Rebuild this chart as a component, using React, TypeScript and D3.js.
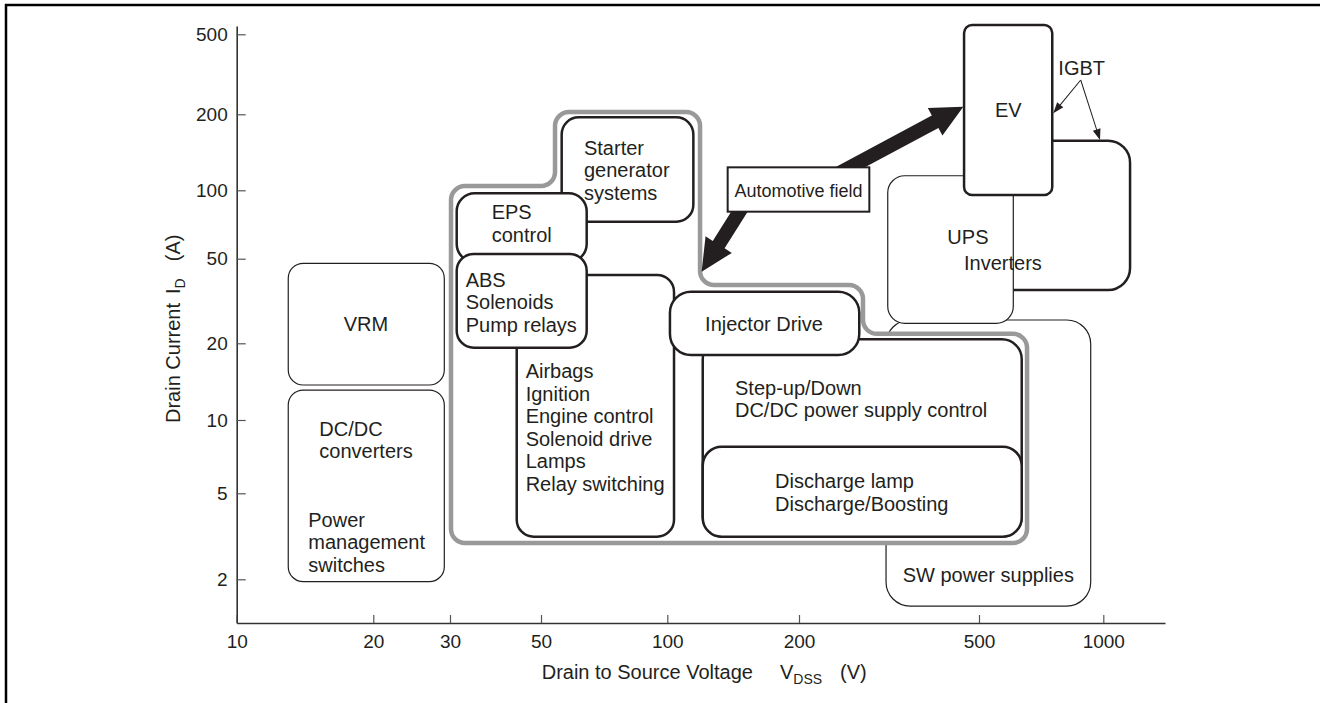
import * as React from "react";
import * as d3 from "d3";

const W = 1320;
const H = 703;
const ink = "#231f20";
const font = "'Liberation Sans', Arial, Helvetica, sans-serif";

// axes (log): drain-source voltage in V, drain current in A
const xTicks = [10, 20, 30, 50, 100, 200, 500, 1000];
const yTicks = [2, 5, 10, 20, 50, 100, 200, 500];
const xEnd = 1411; // right end of the voltage axis
const yEnds = [1.255, 550]; // bottom and top of the current axis

// application areas, back to front: voltage range [V], current range [A]
const regions = [
  { id: "sw", v: [311.5, 932.2], a: [1.504, 25.74] },
  { id: "starter", v: [56.01, 114.7], a: [72.74, 194.6] },
  { id: "eps", v: [31.15, 64.25], a: [48.25, 97.01] },
  { id: "airbags", v: [43.63, 103.6], a: [3.149, 41.91] },
  { id: "abs", v: [31.15, 64.25], a: [19.22, 52.44] },
  { id: "stepup", v: [120.5, 634.5], a: [3.149, 20.89] },
  { id: "discharge", v: [120.5, 634.5], a: [3.149, 7.77] },
  { id: "injector", v: [101.4, 271.8], a: [17.99, 34.97] },
  { id: "vrm", v: [12.99, 29.11], a: [13.72, 47.57] },
  { id: "dcdc", v: [12.99, 29.11], a: [1.95, 13.11] },
  { id: "inverters", v: [502.8, 1161], a: [35.62, 157.2] },
  { id: "ups", v: [314.2, 605.4], a: [24.84, 114.2] },
  { id: "ev", v: [463.4, 752.3], a: [95.35, 556.4] },
];

// outline of the automotive field
const autoV = [30.17, 30.17, 54.0, 54.0, 118.8, 118.8, 277.0, 277.0, 653.6, 653.6];
const autoA = [2.944, 104.0, 104.0, 205.3, 205.3, 37.61, 37.61, 22.15, 22.15, 2.944];

// "Automotive field" tag
const tagV = [137.4, 286.1];
const tagA = [80.52, 123.3];

// arrows: from [V, A] to [V, A]
const bigArrows = [
  { from: [229.5, 109.8], to: [461.7, 218.2] },
  { from: [154.5, 95.35], to: [119.8, 43.43] },
];
const igbtArrows = [
  { from: [881.6, 296.2], to: [756.5, 202.3] },
  { from: [881.6, 296.2], to: [981.8, 158.2] },
];

const labels = [
  { id: "vrm", v: 19.27, a: 22.93, lines: ["VRM"] },
  { id: "dcdc", v: 15.21, a: 8.597, lines: ["DC/DC", "converters"] },
  { id: "power", v: 14.38, a: 3.503, lines: ["Power", "management", "switches"] },
  { id: "abs", v: 32.76, a: 36.93, lines: ["ABS", "Solenoids", "Pump relays"] },
  { id: "eps", v: 37.91, a: 74.55, lines: ["EPS", "control"] },
  { id: "starter", v: 63.3, a: 138.0, lines: ["Starter", "generator", "systems"] },
  {
    id: "airbags", v: 45.87, a: 14.58,
    lines: ["Airbags", "Ignition", "Engine control", "Solenoid drive", "Lamps", "Relay switching"],
  },
  { id: "injector", v: 122.0, a: 22.93, lines: ["Injector Drive"] },
  { id: "stepup", v: 142.8, a: 12.54, lines: ["Step-up/Down", "DC/DC power supply control"] },
  { id: "discharge", v: 176.3, a: 5.242, lines: ["Discharge lamp", "Discharge/Boosting"] },
  { id: "sw", v: 339.1, a: 1.95, lines: ["SW power supplies"] },
  { id: "ups", v: 425.6, a: 57.86, lines: ["UPS"] },
  { id: "inverters", v: 463.4, a: 44.24, lines: ["Inverters"] },
  { id: "ev", v: 588.8, a: 195.7, lines: ["EV"] },
  { id: "igbt", v: 778.2, a: 313.7, lines: ["IGBT"] },
  { id: "auto", v: 199.5, a: 93.72, lines: ["Automotive field"] },
];

const thinBoxes = new Set(["sw", "vrm", "dcdc", "ups"]);
const boxRadius: Record<string, number> = {
  sw: 24, starter: 17, eps: 18, airbags: 17, abs: 17, stepup: 20, discharge: 19,
  injector: 21, vrm: 15, dcdc: 15, inverters: 22, ups: 17, ev: 8,
};
const centered = new Set(["vrm", "ev", "auto"]);

// the printed axes are not perfectly logarithmic, so the scales pass through every printed tick
const x = d3
  .scaleLog()
  .domain([...xTicks, xEnd])
  .range([236.7, 373.3, 450, 541, 667.3, 799, 979, 1103.3, 1165]);
const y = d3
  .scaleLog()
  .domain([yEnds[0], ...yTicks, yEnds[1]])
  .range([623, 579.3, 493.3, 420, 343.3, 258.7, 190.3, 114.3, 34.3, 26]);

function roundedPoly(pts: number[][], r: number) {
  const p = d3.path();
  const n = pts.length;
  const a = pts[n - 1];
  const b = pts[0];
  p.moveTo((a[0] + b[0]) / 2, (a[1] + b[1]) / 2);
  for (let i = 0; i < n; i++) {
    const c = pts[i];
    const d = pts[(i + 1) % n];
    p.arcTo(c[0], c[1], d[0], d[1], r);
  }
  p.closePath();
  return p.toString();
}

function arrowPoints(x1: number, y1: number, x2: number, y2: number, shaft: number, headL: number, headW: number) {
  const len = Math.hypot(x2 - x1, y2 - y1);
  const ux = (x2 - x1) / len;
  const uy = (y2 - y1) / len;
  const nx = -uy;
  const ny = ux;
  const bx = x2 - ux * headL;
  const by = y2 - uy * headL;
  const pts = [
    [x1 + (nx * shaft) / 2, y1 + (ny * shaft) / 2],
    [bx + (nx * shaft) / 2, by + (ny * shaft) / 2],
    [bx + (nx * headW) / 2, by + (ny * headW) / 2],
    [x2, y2],
    [bx - (nx * headW) / 2, by - (ny * headW) / 2],
    [bx - (nx * shaft) / 2, by - (ny * shaft) / 2],
    [x1 - (nx * shaft) / 2, y1 - (ny * shaft) / 2],
  ];
  return pts.map((p) => p.join(",")).join(" ");
}

function drawAxes(xRef: any, yRef: any) {
  const gx = d3.select(xRef.current);
  gx.selectAll("*").remove();
  gx.call(
    d3.axisBottom(x).tickValues(xTicks).tickFormat(d3.format("d")).tickSizeInner(-8).tickSizeOuter(0).tickPadding(11.5)
  );

  const gy = d3.select(yRef.current);
  gy.selectAll("*").remove();
  gy.call(
    d3.axisLeft(y).tickValues(yTicks).tickFormat(d3.format("d")).tickSizeInner(-9).tickSizeOuter(0).tickPadding(9)
  );

  [gx, gy].forEach((g) => {
    g.attr("font-family", font).attr("font-size", 19);
    g.select(".domain").attr("stroke", "#333").attr("stroke-width", 1.6);
    g.selectAll(".tick line").attr("stroke", "#555").attr("stroke-width", 1.2);
    g.selectAll(".tick text").attr("fill", ink);
  });
}

export default function App() {
  const xRef = React.useRef(null);
  const yRef = React.useRef(null);

  React.useEffect(() => {
    drawAxes(xRef, yRef);
  }, []);

  const box = (r: { id: string; v: number[]; a: number[] }) => {
    const x0 = x(r.v[0]);
    const x1 = x(r.v[1]);
    const y0 = y(r.a[1]);
    const y1 = y(r.a[0]);
    const thin = thinBoxes.has(r.id);
    return (
      <rect
        key={r.id}
        x={x0}
        y={y0}
        width={x1 - x0}
        height={y1 - y0}
        rx={boxRadius[r.id]}
        fill="#fff"
        stroke={ink}
        strokeWidth={thin ? 1.2 : 2.5}
      />
    );
  };

  const outline = roundedPoly(
    autoV.map((v, i) => [x(v), y(autoA[i])]),
    14
  );

  return (
    <svg
      width={W}
      height={H}
      style={{ position: "absolute", left: 0, top: 0, background: "#fff" }}
      fontFamily={font}
    >
      <line x1={5} y1={5} x2={W} y2={5} stroke="#000" strokeWidth={2.5} />
      <line x1={6} y1={4} x2={6} y2={H} stroke="#000" strokeWidth={2.5} />

      {box(regions[0])}
      <path d={outline} fill="#fff" stroke="#999" strokeWidth={4.5} />
      {regions.slice(1).map(box)}

      {bigArrows.map((d, i) => (
        <polygon
          key={i}
          points={arrowPoints(x(d.from[0]), y(d.from[1]), x(d.to[0]), y(d.to[1]), 14, 32, 31)}
          fill={ink}
        />
      ))}
      <rect
        x={x(tagV[0])}
        y={y(tagA[1])}
        width={x(tagV[1]) - x(tagV[0])}
        height={y(tagA[0]) - y(tagA[1])}
        fill="#fff"
        stroke={ink}
        strokeWidth={2}
      />
      {igbtArrows.map((d, i) => (
        <polygon
          key={i}
          points={arrowPoints(x(d.from[0]), y(d.from[1]), x(d.to[0]), y(d.to[1]), 1, 11, 8)}
          fill={ink}
        />
      ))}

      {labels.map((l) => (
        <text
          key={l.id}
          x={x(l.v)}
          y={y(l.a)}
          fontSize={l.id === "auto" ? 18 : 20}
          fill={ink}
          textAnchor={centered.has(l.id) ? "middle" : "start"}
        >
          {l.lines.map((t, k) => (
            <tspan key={k} x={x(l.v)} dy={k === 0 ? 0 : 22.5}>
              {t}
            </tspan>
          ))}
        </text>
      ))}

      <g ref={xRef} transform={`translate(0,${y(yEnds[0])})`} />
      <g ref={yRef} transform={`translate(${x(xTicks[0])},0)`} />

      <text x={541.7} y={679} fontSize={20} fill={ink}>
        Drain to Source Voltage
        <tspan dx={27}>V</tspan>
        <tspan fontSize={14} dy={5}>DSS</tspan>
        <tspan dx={18} dy={-5}>(V)</tspan>
      </text>
      <text transform="translate(180,423) rotate(-90)" fontSize={20} fill={ink}>
        Drain Current
        <tspan dx={9}>I</tspan>
        <tspan fontSize={14} dy={5}>D</tspan>
        <tspan dx={17} dy={-5}>(A)</tspan>
      </text>
    </svg>
  );
}
